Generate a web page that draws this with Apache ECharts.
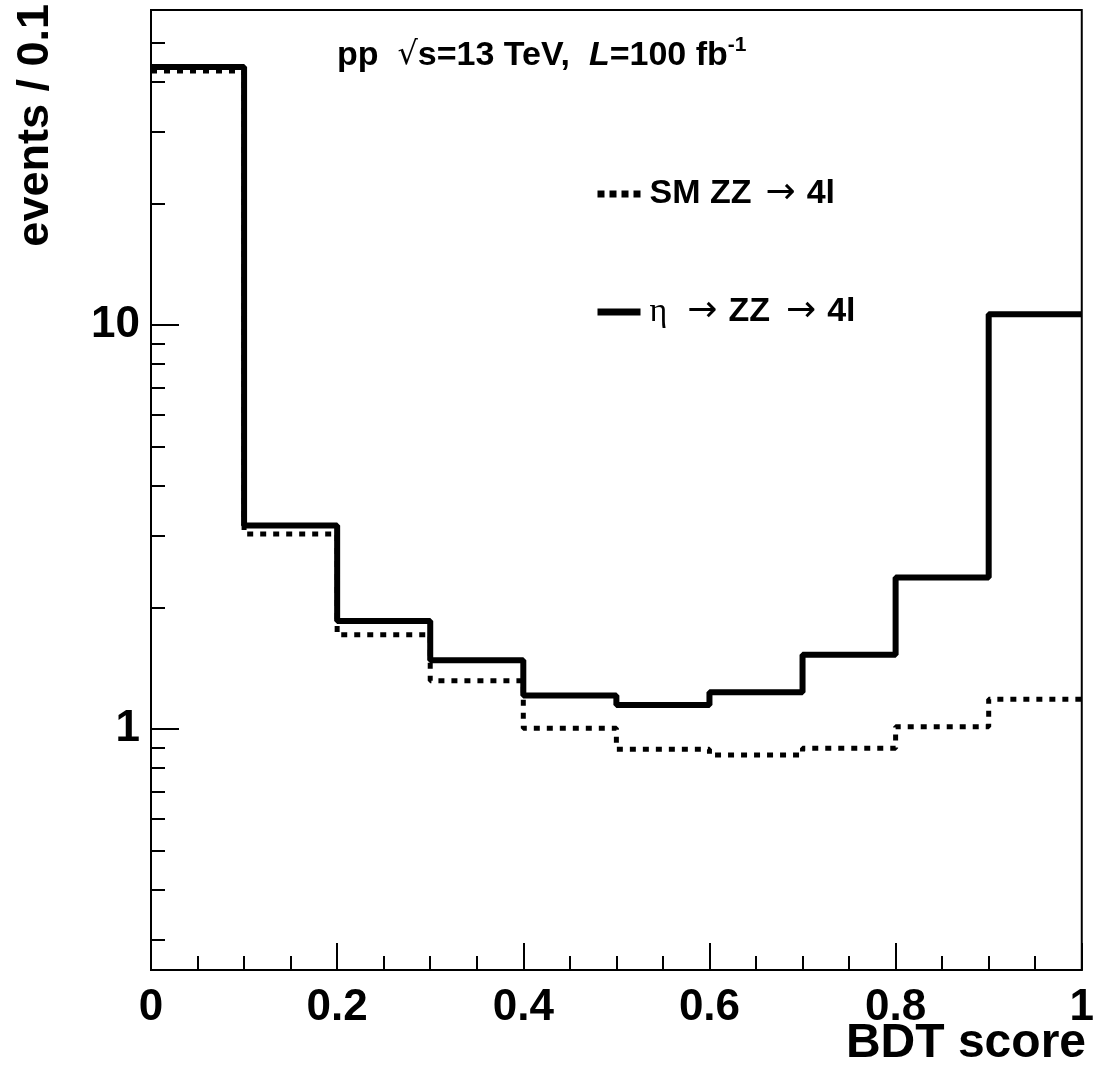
<!DOCTYPE html>
<html>
<head>
<meta charset="utf-8">
<script src="https://cdn.jsdelivr.net/npm/echarts@6/dist/echarts.min.js"></script>
<style>
  html, body { margin: 0; padding: 0; background: #fff; }
  #chart { width: 1097px; height: 1075px; }
</style>
</head>
<body>
<div id="chart"></div>
<script>
// bin edges of the BDT score histogram (10 bins of 0.1)
var binEdges = [0, 0.1, 0.2, 0.3, 0.4, 0.5, 0.6, 0.7, 0.8, 0.9, 1.0];
// events per bin
var smZZ = [42.5, 3.04, 1.71, 1.317, 1.004, 0.891, 0.862, 0.896, 1.013, 1.184];
var etaZZ = [43.5, 3.19, 1.85, 1.48, 1.21, 1.147, 1.233, 1.527, 2.37, 10.63];
// y axis ticks (log scale)
var yMajor = [1, 10];
var yMinor = [0.3, 0.4, 0.5, 0.6, 0.7, 0.8, 0.9, 2, 3, 4, 5, 6, 7, 8, 9, 20, 30, 40, 50];

var FONT = 'Liberation Sans, Arial, sans-serif';

// histogram as step line: one point per lower edge, plus the last upper edge
function steps (values) {
  return binEdges.map(function (x, i) {
    return [x, values[Math.min(i, values.length - 1)]];
  });
}

var chart = echarts.init(document.getElementById('chart'));

var legendText = {
  'SM ZZ → 4l': '{b|SM ZZ}{a|→}{b|4l}',
  'η → ZZ → 4l': '{g|η}{a|→}{b|ZZ}{a2|→}{b|4l}'
};

var option = {
  animation: false,
  backgroundColor: '#fff',
  grid: {
    left: 151,
    right: 11,
    top: 10,
    bottom: 105,
    show: true,
    borderColor: '#000',
    borderWidth: 2
  },
  xAxis: {
    type: 'value',
    min: 0,
    max: 1,
    interval: 0.2,
    axisLine: { show: true, lineStyle: { color: '#000', width: 2 } },
    axisTick: { inside: true, length: 27, lineStyle: { color: '#000', width: 2 } },
    minorTick: { show: true, splitNumber: 4, length: 14, lineStyle: { color: '#000', width: 2 } },
    splitLine: { show: false },
    axisLabel: {
      color: '#000', fontFamily: FONT, fontWeight: 'bold', fontSize: 44, margin: 16,
      showMinLabel: true, showMaxLabel: true
    }
  },
  yAxis: [
    {
      type: 'log',
      min: 0.2532,
      max: 60.2,
      axisLine: { show: true, lineStyle: { color: '#000', width: 2 } },
      axisTick: { inside: true, length: 28, customValues: yMajor, lineStyle: { color: '#000', width: 2 } },
      splitLine: { show: false },
      axisLabel: {
        customValues: yMajor,
        color: '#000', fontFamily: FONT, fontWeight: 'bold', fontSize: 44, margin: 11
      }
    },
    {
      type: 'log',
      min: 0.2532,
      max: 60.2,
      position: 'left',
      axisLine: { show: false },
      axisTick: { show: true, inside: true, length: 14, customValues: yMinor, lineStyle: { color: '#000', width: 2 } },
      splitLine: { show: false },
      axisLabel: { show: false }
    }
  ],
  legend: {
    orient: 'vertical',
    left: 589,
    top: 171,
    itemGap: 82,
    itemWidth: 43,
    itemHeight: 7,
    itemStyle: { opacity: 0 },
    data: [
      { name: 'SM ZZ → 4l', lineStyle: { type: [7, 5], width: 7, color: '#000', cap: 'butt' } },
      { name: 'η → ZZ → 4l', lineStyle: { type: 'solid', width: 7, color: '#000' } }
    ],
    formatter: function (name) { return legendText[name]; },
    textStyle: {
      padding: [0, 0, 0, 4],
      rich: {
        b: { fontFamily: FONT, fontWeight: 'bold', fontSize: 34, color: '#000', lineHeight: 38 },
        a: { fontFamily: 'DejaVu Sans, sans-serif', fontWeight: 'normal', fontSize: 36, color: '#000', lineHeight: 38, padding: [0, 11, 0, 14] },
        a2: { fontFamily: 'DejaVu Sans, sans-serif', fontWeight: 'normal', fontSize: 36, color: '#000', lineHeight: 38, padding: [0, 11, 0, 16] },
        g: { fontFamily: 'Liberation Serif, serif', fontWeight: 'normal', fontSize: 34, color: '#000', lineHeight: 38, padding: [0, 6, 0, 0] }
      }
    }
  },
  graphic: [
    {
      type: 'text',
      x: 337,
      y: 56,
      style: {
        text: '{b|pp  }{r|√}{b|s=13 TeV,  }{i|L}{b|=100 fb}{s|-1}',
        verticalAlign: 'middle',
        rich: {
          b: { fontFamily: FONT, fontWeight: 'bold', fontSize: 34, fill: '#000', lineHeight: 42 },
          r: { fontFamily: 'DejaVu Sans, sans-serif', fontWeight: 'normal', fontSize: 32, fill: '#000', lineHeight: 42 },
          i: { fontFamily: FONT, fontWeight: 'bold', fontStyle: 'italic', fontSize: 34, fill: '#000', lineHeight: 42 },
          s: { fontFamily: FONT, fontWeight: 'bold', fontSize: 21, fill: '#000', lineHeight: 42, verticalAlign: 'top' }
        }
      }
    },
    {
      type: 'text',
      x: 36,
      y: 4,
      rotation: Math.PI / 2,
      style: {
        text: 'events / 0.1',
        fontFamily: FONT,
        fontWeight: 'bold',
        fontSize: 45,
        fill: '#000',
        align: 'right',
        verticalAlign: 'middle'
      }
    },
    {
      type: 'text',
      right: 11,
      top: 1020,
      style: {
        text: 'BDT score',
        fontFamily: FONT,
        fontWeight: 'bold',
        fontSize: 48,
        fill: '#000'
      }
    }
  ],
  series: [
    {
      name: 'SM ZZ → 4l',
      type: 'line',
      step: 'end',
      symbol: 'none',
      data: steps(smZZ),
      lineStyle: { color: '#000', width: 5, type: [6, 7], cap: 'butt' },
      itemStyle: { color: '#000' },
      z: 3
    },
    {
      name: 'η → ZZ → 4l',
      type: 'line',
      step: 'end',
      symbol: 'none',
      data: steps(etaZZ),
      lineStyle: { color: '#000', width: 6, type: 'solid' },
      itemStyle: { color: '#000' },
      z: 2
    }
  ]
};

chart.setOption(option);
</script>
</body>
</html>
